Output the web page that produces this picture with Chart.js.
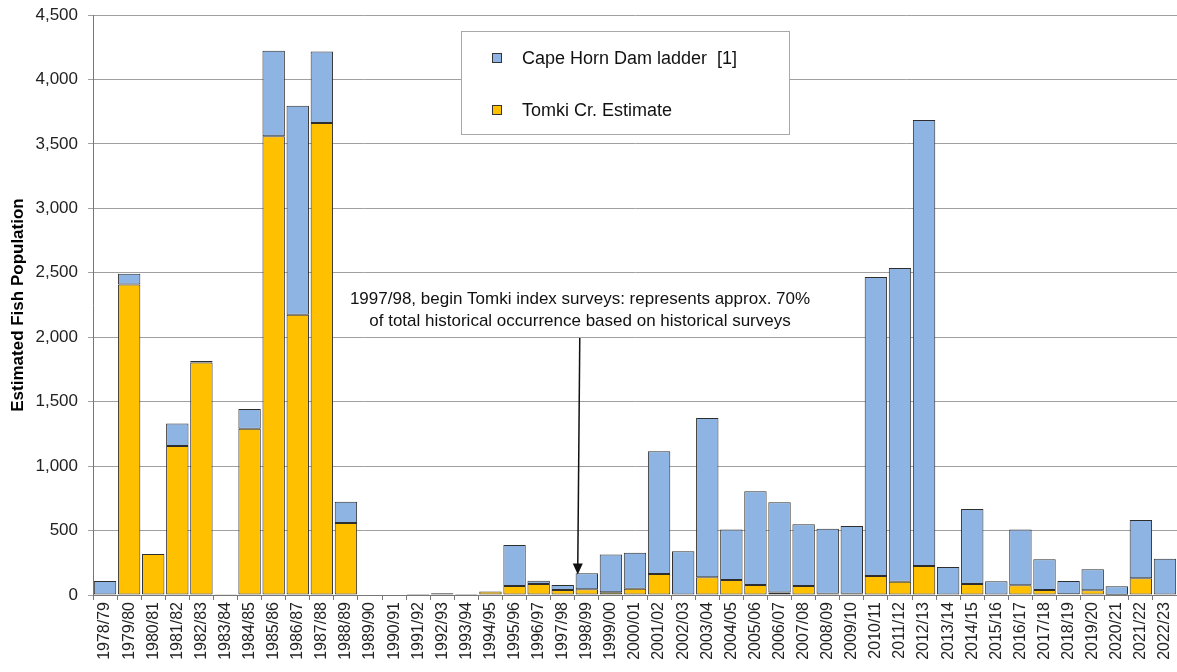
<!DOCTYPE html>
<html>
<head>
<meta charset="utf-8">
<title>Estimated Fish Population</title>
<script src="https://cdn.jsdelivr.net/npm/chart.js@4"></script>
<style>
  html, body { margin: 0; padding: 0; background: #fff; }
  #wrap { width: 1177px; height: 672px; position: relative; }
</style>
</head>
<body>
<div id="wrap"><canvas id="fishChart"></canvas></div>
<script>
// seasons on the x axis
const seasons = ['1978/79', '1979/80', '1980/81', '1981/82', '1982/83', '1983/84', '1984/85', '1985/86',
  '1986/87', '1987/88', '1988/89', '1989/90', '1990/91', '1991/92', '1992/93', '1993/94', '1994/95',
  '1995/96', '1996/97', '1997/98', '1998/99', '1999/00', '2000/01', '2001/02', '2002/03', '2003/04',
  '2004/05', '2005/06', '2006/07', '2007/08', '2008/09', '2009/10', '2010/11', '2011/12', '2012/13',
  '2013/14', '2014/15', '2015/16', '2016/17', '2017/18', '2018/19', '2019/20', '2020/21', '2021/22',
  '2022/23'];

// lower (yellow) part of each bar
const tomkiEstimate = [0, 2410, 318, 1156, 1804, 6, 1290, 3560, 2175, 3663, 559, 4, 3, 8, 14, 8, 28,
  70, 85, 39, 44, 21, 49, 163, 3, 137, 116, 78, 20, 70, 10, 10, 147, 103, 225,
  4, 85, 0, 75, 39, 5, 36, 2, 129, 0];

// upper (blue) part of each bar
const capeHornLadder = [108, 82, 0, 175, 11, 2, 153, 663, 1620, 554, 165, 0, 0, 0, 0, 0, 0,
  318, 26, 39, 124, 294, 279, 952, 336, 1236, 393, 726, 699, 478, 504, 525, 2320, 2434, 3460,
  213, 582, 106, 434, 238, 104, 163, 65, 453, 282];

const yMax = 4500;
const yStep = 500;

const noteLines = ['1997/98, begin Tomki index surveys: represents approx. 70%',
  'of total historical occurrence based on historical surveys'];

const FONT = 'Arial, "Liberation Sans", sans-serif';

// boxed legend inside the plot, blue entry first
const legendBox = {
  id: 'legendBox',
  afterDraw(chart) {
    const c = chart.ctx;
    const x = 461, y = 31, w = 328, h = 103;
    c.save();
    c.fillStyle = '#fff';
    c.fillRect(x, y, w, h);
    c.strokeStyle = '#a8a8a8';
    c.lineWidth = 1;
    c.strokeRect(x + 0.5, y + 0.5, w, h);
    const items = chart.data.datasets.slice().reverse();
    items.forEach((ds, i) => {
      const cy = y + 27 + i * 52;
      c.fillStyle = ds.backgroundColor;
      c.fillRect(x + 31, cy - 5, 10, 10);
      c.strokeStyle = '#333';
      c.strokeRect(x + 31.5, cy - 4.5, 9, 9);
      c.fillStyle = '#111';
      c.font = '18px ' + FONT;
      c.textBaseline = 'middle';
      c.fillText(ds.label, x + 61, cy + 1);
    });
    c.restore();
  }
};

// text note and arrow pointing at 1998/99
const noteArrow = {
  id: 'noteArrow',
  afterDraw(chart) {
    const c = chart.ctx;
    const xs = chart.scales.x, ys = chart.scales.y;
    const ax = (xs.getPixelForValue(19) + xs.getPixelForValue(20)) / 2 + 3;
    const tipY = ys.getPixelForValue(160);
    c.save();
    c.fillStyle = '#111';
    c.font = '17px ' + FONT;
    c.textAlign = 'center';
    c.textBaseline = 'middle';
    c.fillText(noteLines[0], 580, 299);
    c.fillText(noteLines[1], 580, 321);
    c.strokeStyle = '#111';
    c.lineWidth = 1.5;
    c.beginPath();
    c.moveTo(ax + 2, 338);
    c.lineTo(ax, tipY - 9);
    c.stroke();
    c.beginPath();
    c.moveTo(ax, tipY);
    c.lineTo(ax - 5, tipY - 11);
    c.lineTo(ax + 5, tipY - 11);
    c.closePath();
    c.fill();
    c.restore();
  }
};

const ctx = document.getElementById('fishChart');

const chart = new Chart(ctx, {
  type: 'bar',
  data: {
    labels: seasons,
    datasets: [{
      label: 'Tomki Cr. Estimate',
      data: tomkiEstimate,
      backgroundColor: '#FFC000',
      borderColor: '#2e2e2e',
      borderWidth: 1,
      borderSkipped: false
    }, {
      label: 'Cape Horn Dam ladder  [1]',
      data: capeHornLadder,
      backgroundColor: '#8DB4E2',
      borderColor: '#2e2e2e',
      borderWidth: 1,
      borderSkipped: false
    }]
  },
  options: {
    responsive: true,
    maintainAspectRatio: false,
    animation: false,
    layout: { padding: { top: 15, right: 0, left: 0, bottom: 0 } },
    datasets: { bar: { categoryPercentage: 1, barPercentage: 0.93 } },
    plugins: {
      legend: { display: false },
      tooltip: { enabled: false }
    },
    scales: {
      x: {
        stacked: true,
        grid: { offset: true, drawOnChartArea: false, tickLength: 5, color: '#777' },
        border: { color: '#777' },
        ticks: {
          autoSkip: false, minRotation: 90, maxRotation: 90, padding: 2,
          color: '#222', font: { family: FONT, size: 16 }
        },
        afterFit: s => { s.height = 77; s.paddingLeft = 0; s.paddingRight = 0; }
      },
      y: {
        stacked: true,
        min: 0,
        max: yMax,
        ticks: { stepSize: yStep, padding: 10, color: '#222', font: { family: FONT, size: 17 } },
        grid: { color: '#a0a0a0', tickLength: 5 },
        border: { color: '#777' },
        title: {
          display: true,
          text: 'Estimated Fish Population',
          color: '#000',
          font: { family: FONT, size: 17, weight: 'bold' },
          padding: { top: 8, bottom: 0 }
        },
        afterFit: s => { s.width = 93; s.paddingTop = 0; s.paddingBottom = 0; }
      }
    }
  },
  plugins: [legendBox, noteArrow]
});
</script>
</body>
</html>
